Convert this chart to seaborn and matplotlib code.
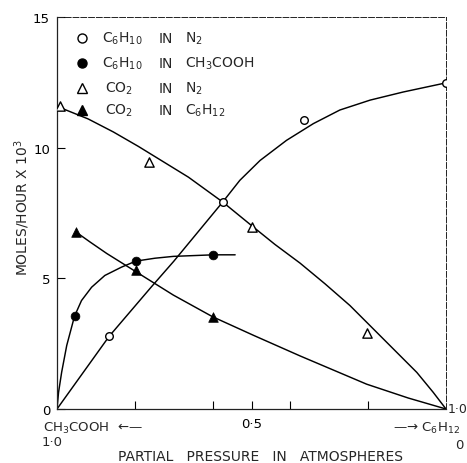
import matplotlib
matplotlib.use("Agg")
import matplotlib.pyplot as plt
import seaborn as sns

# ---- data points ----
c6h10_n2_x = [0.134, 0.426, 0.635, 1.0]
c6h10_n2_y = [2.81, 7.92, 11.05, 12.49]

c6h10_acoh_x = [0.045, 0.203, 0.402]
c6h10_acoh_y = [3.55, 5.66, 5.90]

co2_n2_x = [0.008, 0.237, 0.500, 0.798]
co2_n2_y = [11.58, 9.45, 6.96, 2.90]

co2_c6h12_x = [0.049, 0.202, 0.400]
co2_c6h12_y = [6.77, 5.30, 3.51]

# ---- hand-drawn fitted curves ----
curve_c6h10_n2_x = [0.0, 0.134, 0.243, 0.300, 0.426, 0.470, 0.522, 0.590,
                    0.659, 0.727, 0.805, 0.890, 1.0]
curve_c6h10_n2_y = [0.0, 2.78, 4.68, 5.65, 7.92, 8.75, 9.51, 10.28,
                    10.92, 11.44, 11.82, 12.13, 12.48]

curve_c6h10_acoh_x = [0.0, 0.004, 0.012, 0.025, 0.045, 0.063, 0.089, 0.123,
                      0.166, 0.203, 0.252, 0.299, 0.402, 0.458]
curve_c6h10_acoh_y = [0.0, 0.64, 1.41, 2.43, 3.55, 4.15, 4.66, 5.11,
                      5.43, 5.66, 5.77, 5.84, 5.90, 5.90]

curve_co2_n2_x = [0.0, 0.080, 0.145, 0.209, 0.338, 0.426, 0.505, 0.560,
                  0.625, 0.689, 0.753, 0.839, 0.882, 0.925, 0.967, 1.0]
curve_co2_n2_y = [11.58, 11.10, 10.60, 10.05, 8.87, 7.92, 6.96, 6.30,
                  5.58, 4.79, 3.96, 2.68, 2.04, 1.40, 0.64, 0.0]

curve_co2_c6h12_x = [0.049, 0.085, 0.128, 0.200, 0.299, 0.400, 0.505,
                     0.625, 0.796, 0.903, 1.0]
curve_co2_c6h12_y = [6.77, 6.39, 5.95, 5.28, 4.36, 3.53, 2.82,
                     2.03, 0.95, 0.42, 0.0]

legend_rows = [
    ("o", "white", "C$_6$H$_{10}$", "IN", "N$_2$"),
    ("o", "black", "C$_6$H$_{10}$", "IN", "CH$_3$COOH"),
    ("^", "white", "CO$_2$", "IN", "N$_2$"),
    ("^", "black", "CO$_2$", "IN", "C$_6$H$_{12}$"),
]

sns.set_theme(style="white")
plt.rcParams["font.family"] = ["DejaVu Sans"]
plt.rcParams["mathtext.default"] = "regular"

fig = plt.figure(figsize=(4.67, 4.64), dpi=100)
ax = fig.add_axes([57 / 467, 1 - 410 / 464, (446 - 57) / 467, (410 - 18) / 464])

lw = 1.05
for cx, cy in [(curve_c6h10_n2_x, curve_c6h10_n2_y),
               (curve_c6h10_acoh_x, curve_c6h10_acoh_y),
               (curve_co2_n2_x, curve_co2_n2_y),
               (curve_co2_c6h12_x, curve_co2_c6h12_y)]:
    sns.lineplot(x=cx, y=cy, ax=ax, color="black", linewidth=lw, sort=False,
                 estimator=None)

sns.scatterplot(x=c6h10_n2_x, y=c6h10_n2_y, ax=ax, marker="o", s=30,
                facecolor="white", edgecolor="black", linewidth=1.0, zorder=5)
sns.scatterplot(x=c6h10_acoh_x, y=c6h10_acoh_y, ax=ax, marker="o", s=40,
                color="black", edgecolor="black", linewidth=0.5, zorder=5)
sns.scatterplot(x=co2_n2_x, y=co2_n2_y, ax=ax, marker="^", s=45,
                facecolor="white", edgecolor="black", linewidth=1.0, zorder=5)
sns.scatterplot(x=co2_c6h12_x, y=co2_c6h12_y, ax=ax, marker="^", s=48,
                color="black", edgecolor="black", linewidth=0.5, zorder=5)

ax.set_xlim(0, 1.0)
ax.set_ylim(0, 15)

ax.set_yticks([0, 5, 10, 15])
ax.set_yticklabels(["0", "5", "10", "15"])
ax.set_xticks([0.2, 0.4, 0.5, 0.6, 0.8])
ax.set_xticklabels(["", "", "0·5", "", ""])
ax.tick_params(axis="both", direction="in", length=6, width=0.8,
               colors="black", labelsize=9.5, pad=5)
ax.tick_params(axis="x", pad=6)
ax.tick_params(left=True, bottom=True)

for name, sp in ax.spines.items():
    sp.set_color("#222222")
    sp.set_linewidth(0.9)
for name in ("top", "right"):
    ax.spines[name].set_linestyle((0, (6, 2)))
    ax.spines[name].set_linewidth(0.7)

# legend (manual, column aligned)
row_y = [0.946, 0.883, 0.819, 0.763]
for (mk, fc, a, b, c), yy in zip(legend_rows, row_y):
    ax.plot([0.064], [yy], marker=mk, markersize=6.5, markerfacecolor=fc,
            markeredgecolor="black", markeredgewidth=1.0, linestyle="none",
            transform=ax.transAxes)
    x1 = 0.116 if a.startswith("C$_6") else 0.124
    ax.text(x1, yy, a, transform=ax.transAxes, fontsize=10, va="center")
    ax.text(0.262, yy, b, transform=ax.transAxes, fontsize=10, va="center")
    ax.text(0.329, yy, c, transform=ax.transAxes, fontsize=10, va="center")

# axis annotations
fig.text(448 / 467, 1 - 410 / 464, "1·0", fontsize=9, va="center", ha="left")
fig.text(43 / 467, 1 - 428 / 464, "CH$_3$COOH  \u2190\u2014", fontsize=9.5,
         va="center", ha="left")
fig.text(42 / 467, 1 - 443 / 464, "1·0", fontsize=9.5, va="center", ha="left")
fig.text(393 / 467, 1 - 428 / 464, "\u2014\u2192 C$_6$H$_{12}$", fontsize=9.5,
         va="center", ha="left")
fig.text(455 / 467, 1 - 446 / 464, "0", fontsize=9.5, va="center", ha="left")

fig.text(260 / 467, 1 - 457 / 464, "PARTIAL   PRESSURE   IN   ATMOSPHERES",
         fontsize=10, va="center", ha="center")
fig.text(22 / 467, 1 - 207 / 464, "MOLES/HOUR X 10$^3$", fontsize=10,
         rotation=90, va="center", ha="center")

fig.savefig("out.png", dpi=100, facecolor="white")
